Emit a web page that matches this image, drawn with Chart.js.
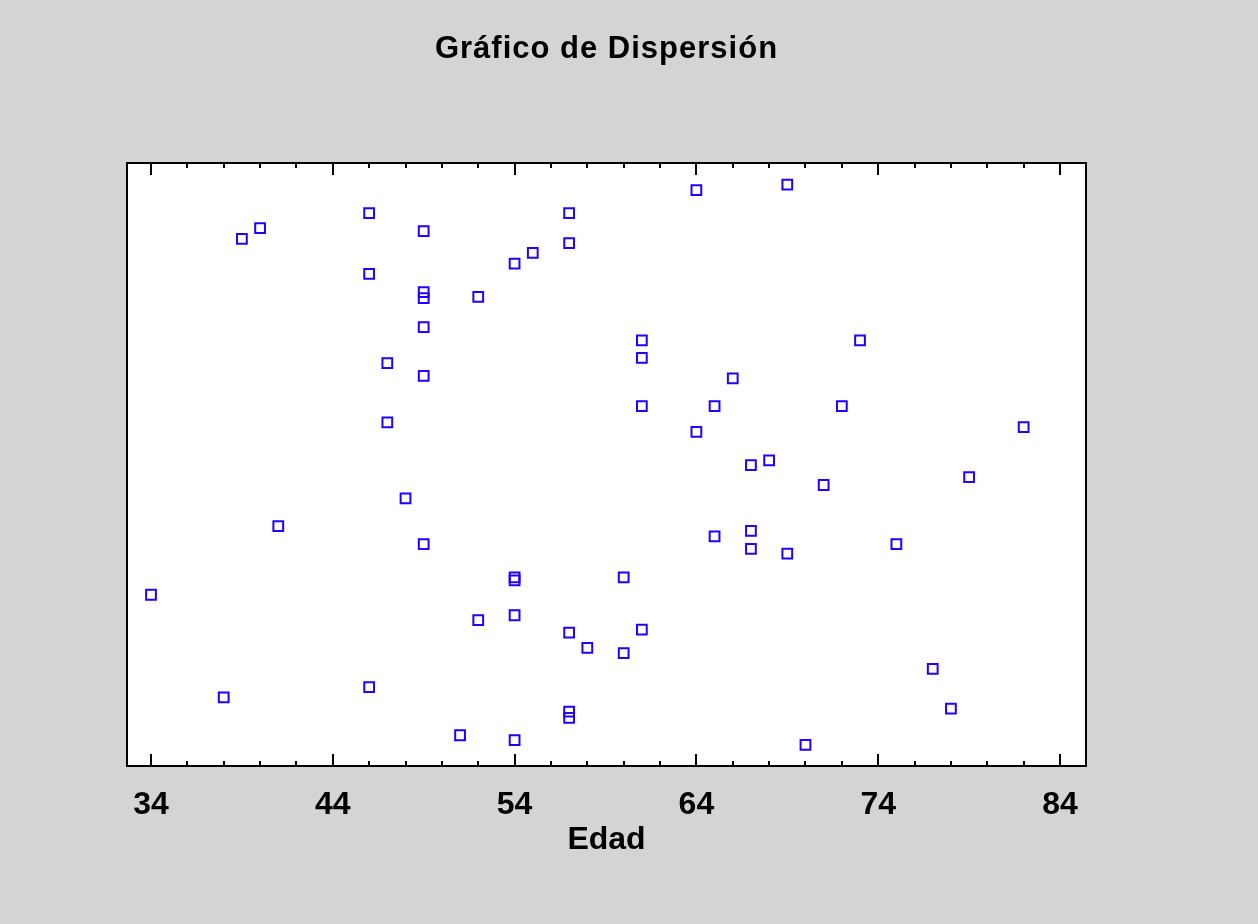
<!DOCTYPE html>
<html>
<head>
<meta charset="utf-8">
<script src="https://cdn.jsdelivr.net/npm/chart.js@4/dist/chart.umd.min.js"></script>
<style>
  body { margin: 0; background: #d4d4d4; }
  #wrap { width: 1258px; height: 924px; }
</style>
</head>
<body>
<div id="wrap"><canvas id="scatter"></canvas></div>
<script>
// Edad (x) y valor relativo (y, 0-100 de la altura del área de trazado)
const edad = [34, 38, 39, 40, 41, 46, 46, 46, 47, 47, 48, 49, 49, 49, 49, 49, 49, 51, 52, 52,
  54, 54, 54, 54, 54, 55, 57, 57, 57, 57, 57, 58, 60, 60, 61, 61, 61, 61, 64, 64,
  65, 65, 66, 67, 67, 67, 68, 69, 69, 70, 71, 72, 73, 75, 77, 78, 79, 82];
const valor = [28.4, 11.4, 87.4, 89.2, 39.8, 91.7, 81.6, 13.1, 66.8, 57.0, 44.4, 88.7, 78.6, 77.6, 72.8, 64.7, 36.8, 5.1, 77.8, 24.2,
  83.3, 31.3, 30.8, 25.0, 4.3, 85.1, 91.7, 86.7, 22.1, 9.0, 8.0, 19.6, 31.3, 18.7, 70.6, 67.7, 59.7, 22.6, 95.5, 55.4,
  59.7, 38.1, 64.3, 49.9, 39.0, 36.0, 50.7, 96.4, 35.2, 3.5, 46.6, 59.7, 70.6, 36.8, 16.1, 9.5, 47.9, 56.2];
const xTicks = [34, 44, 54, 64, 74, 84];
const xMinor = [36, 38, 40, 42, 46, 48, 50, 52, 56, 58, 60, 62, 66, 68, 70, 72, 76, 78, 80, 82];

const points = edad.map((e, i) => ({ x: e, y: valor[i] }));
const fontFam = "'Liberation Sans', Arial, sans-serif";

// fondo gris, área blanca, marco y marcas de eje
const frame = {
  id: "frame",
  beforeDraw(chart) {
    const { ctx, chartArea: a } = chart;
    ctx.save();
    ctx.fillStyle = "#d4d4d4";
    ctx.fillRect(0, 0, chart.width, chart.height);
    ctx.fillStyle = "#ffffff";
    ctx.fillRect(a.left, a.top, a.right - a.left, a.bottom - a.top);
    ctx.restore();
  },
  afterDraw(chart) {
    const { ctx, chartArea: a } = chart;
    const xs = chart.scales.x;
    ctx.save();
    ctx.strokeStyle = "#000";
    ctx.lineWidth = 2;
    ctx.strokeRect(a.left, a.top, a.right - a.left, a.bottom - a.top);
    const tick = (v, len) => {
      const px = Math.round(xs.getPixelForValue(v));
      ctx.beginPath();
      ctx.moveTo(px, a.bottom); ctx.lineTo(px, a.bottom - len);
      ctx.moveTo(px, a.top); ctx.lineTo(px, a.top + len);
      ctx.stroke();
    };
    xMinor.forEach(v => tick(v, 5));
    xTicks.forEach(v => tick(v, 12));
    // título
    ctx.fillStyle = "#000";
    ctx.font = "bold 31px " + fontFam;
    ctx.letterSpacing = "1px";
    ctx.textAlign = "center";
    ctx.textBaseline = "middle";
    ctx.fillText("Gráfico de Dispersión", (a.left + a.right) / 2, 49);
    ctx.restore();
  }
};

new Chart(document.getElementById("scatter"), {
  type: "scatter",
  data: {
    datasets: [{
      data: points,
      pointStyle: "rect",
      pointRadius: 6.9,
      pointBorderWidth: 2,
      borderColor: "#2200ff",
      backgroundColor: "rgba(255,255,255,0)",
    }],
  },
  options: {
    responsive: true,
    maintainAspectRatio: false,
    animation: false,
    layout: { padding: { left: 127, right: 172, top: 163, bottom: 0 } },
    plugins: { legend: { display: false }, tooltip: { enabled: false } },
    scales: {
      x: {
        min: 32.68,
        max: 85.43,
        grid: { display: false },
        border: { display: false },
        afterBuildTicks: (s) => { s.ticks = xTicks.map(v => ({ value: v })); },
        afterFit: (s) => { s.height = 158; },
        ticks: {
          autoSkip: false,
          maxRotation: 0,
          padding: 12,
          color: "#000",
          font: { family: fontFam, size: 32, weight: "bold" },
        },
        title: {
          display: true,
          text: "Edad",
          color: "#000",
          padding: { top: 0, bottom: 65 },
          font: { family: fontFam, size: 32, weight: "bold" },
        },
      },
      y: {
        display: false,
        min: 0,
        max: 100,
      },
    },
  },
  plugins: [frame],
});
</script>
</body>
</html>
